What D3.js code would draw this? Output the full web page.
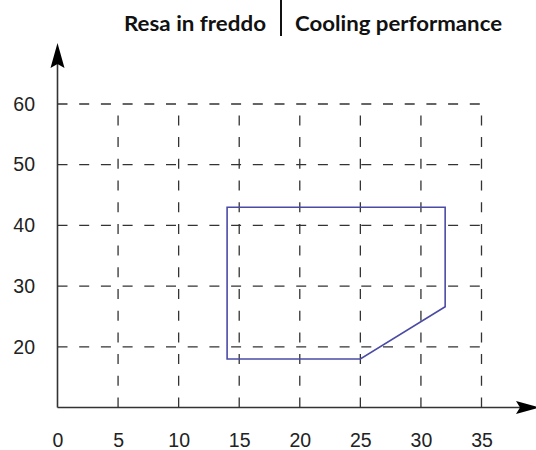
<!DOCTYPE html>
<html>
<head>
<meta charset="utf-8">
<script src="https://cdn.jsdelivr.net/npm/d3@7"></script>
<style>
  body { margin: 0; background: #fff; }
  svg { display: block; }
</style>
</head>
<body>
<div id="chart"></div>
<script>
// data
let xTicks = [0, 5, 10, 15, 20, 25, 30, 35];
let yTicks = [20, 30, 40, 50, 60];
let xGrid = [5, 10, 15, 20, 25, 30, 35];
let envelopeX = [14, 32, 32, 25, 14];
let envelopeY = [43, 43, 26.6, 18, 18];
let titleLeft = "Resa in freddo";
let titleRight = "Cooling performance";

let width = 536, height = 450;

let x = d3.scaleLinear().domain([0, 35]).range([57.5, 481.5]);
let y = d3.scaleLinear().domain([10, 60]).range([407.5, 104]);

let svg = d3.select("#chart").append("svg")
	.attr("width", width)
	.attr("height", height);

// title with separator
function title(txt, x0, len) {
	svg.append("text")
		.attr("x", x0).attr("y", 30.5)
		.attr("font-family", "Lato, 'Open Sans', sans-serif")
		.attr("font-weight", 700)
		.attr("font-size", 21.5)
		.attr("textLength", len)
		.attr("lengthAdjust", "spacingAndGlyphs")
		.attr("fill", "#111")
		.text(txt);
}
title(titleLeft, 124, 142);
title(titleRight, 295, 207);
svg.append("line")
	.attr("x1", 281).attr("x2", 281)
	.attr("y1", 0).attr("y2", 36)
	.attr("stroke", "#111").attr("stroke-width", 2);

// dashed grid
let grid = svg.append("g")
	.attr("stroke", "#333")
	.attr("stroke-width", 1.3)
	.attr("stroke-dasharray", "10,11.7")
	.attr("fill", "none");

grid.selectAll("line.h").data(yTicks).join("line")
	.attr("class", "h")
	.attr("x1", x(0)).attr("x2", x(35))
	.attr("y1", d => y(d)).attr("y2", d => y(d));

grid.selectAll("line.v").data(xGrid).join("line")
	.attr("class", "v")
	.attr("x1", d => x(d)).attr("x2", d => x(d))
	.attr("y1", y(10)).attr("y2", y(60));

// envelope polygon
let pts = envelopeX.map((v, i) => [x(v), y(envelopeY[i])]);
svg.append("path")
	.attr("d", d3.line()(pts) + "Z")
	.attr("fill", "none")
	.attr("stroke", "#4b4ba6")
	.attr("stroke-width", 1.6);

// axes lines with arrows
svg.append("line")
	.attr("x1", x(0)).attr("x2", 520)
	.attr("y1", y(10)).attr("y2", y(10))
	.attr("stroke", "#333").attr("stroke-width", 1.6);
svg.append("line")
	.attr("x1", x(0)).attr("x2", x(0))
	.attr("y1", y(10)).attr("y2", 64)
	.attr("stroke", "#333").attr("stroke-width", 1.6);

svg.append("path")
	.attr("d", "M" + (x(0) - 7) + ",68 L" + x(0) + ",43 L" + (x(0) + 7) + ",68 L" + x(0) + ",64 Z")
	.attr("fill", "#000");
svg.append("path")
	.attr("d", "M516,401 L540," + y(10) + " L516,414 L520," + y(10) + " Z")
	.attr("fill", "#000");

// tick labels
let xAxis = svg.append("g")
	.attr("transform", "translate(0," + y(10) + ")")
	.call(d3.axisBottom(x).tickValues(xTicks).tickSize(0).tickPadding(25.5).tickFormat(d3.format("d")));
xAxis.select(".domain").remove();
xAxis.selectAll("text")
	.attr("font-family", "'Liberation Sans', Arial, sans-serif")
	.attr("font-size", 19.5)
	.attr("fill", "#222");

let yAxis = svg.append("g")
	.attr("transform", "translate(35,0)")
	.call(d3.axisLeft(y).tickValues(yTicks).tickSize(0).tickPadding(0).tickFormat(d3.format("d")));
yAxis.select(".domain").remove();
yAxis.selectAll("text")
	.attr("font-family", "'Liberation Sans', Arial, sans-serif")
	.attr("font-size", 19.5)
	.attr("fill", "#222");
</script>
</body>
</html>
